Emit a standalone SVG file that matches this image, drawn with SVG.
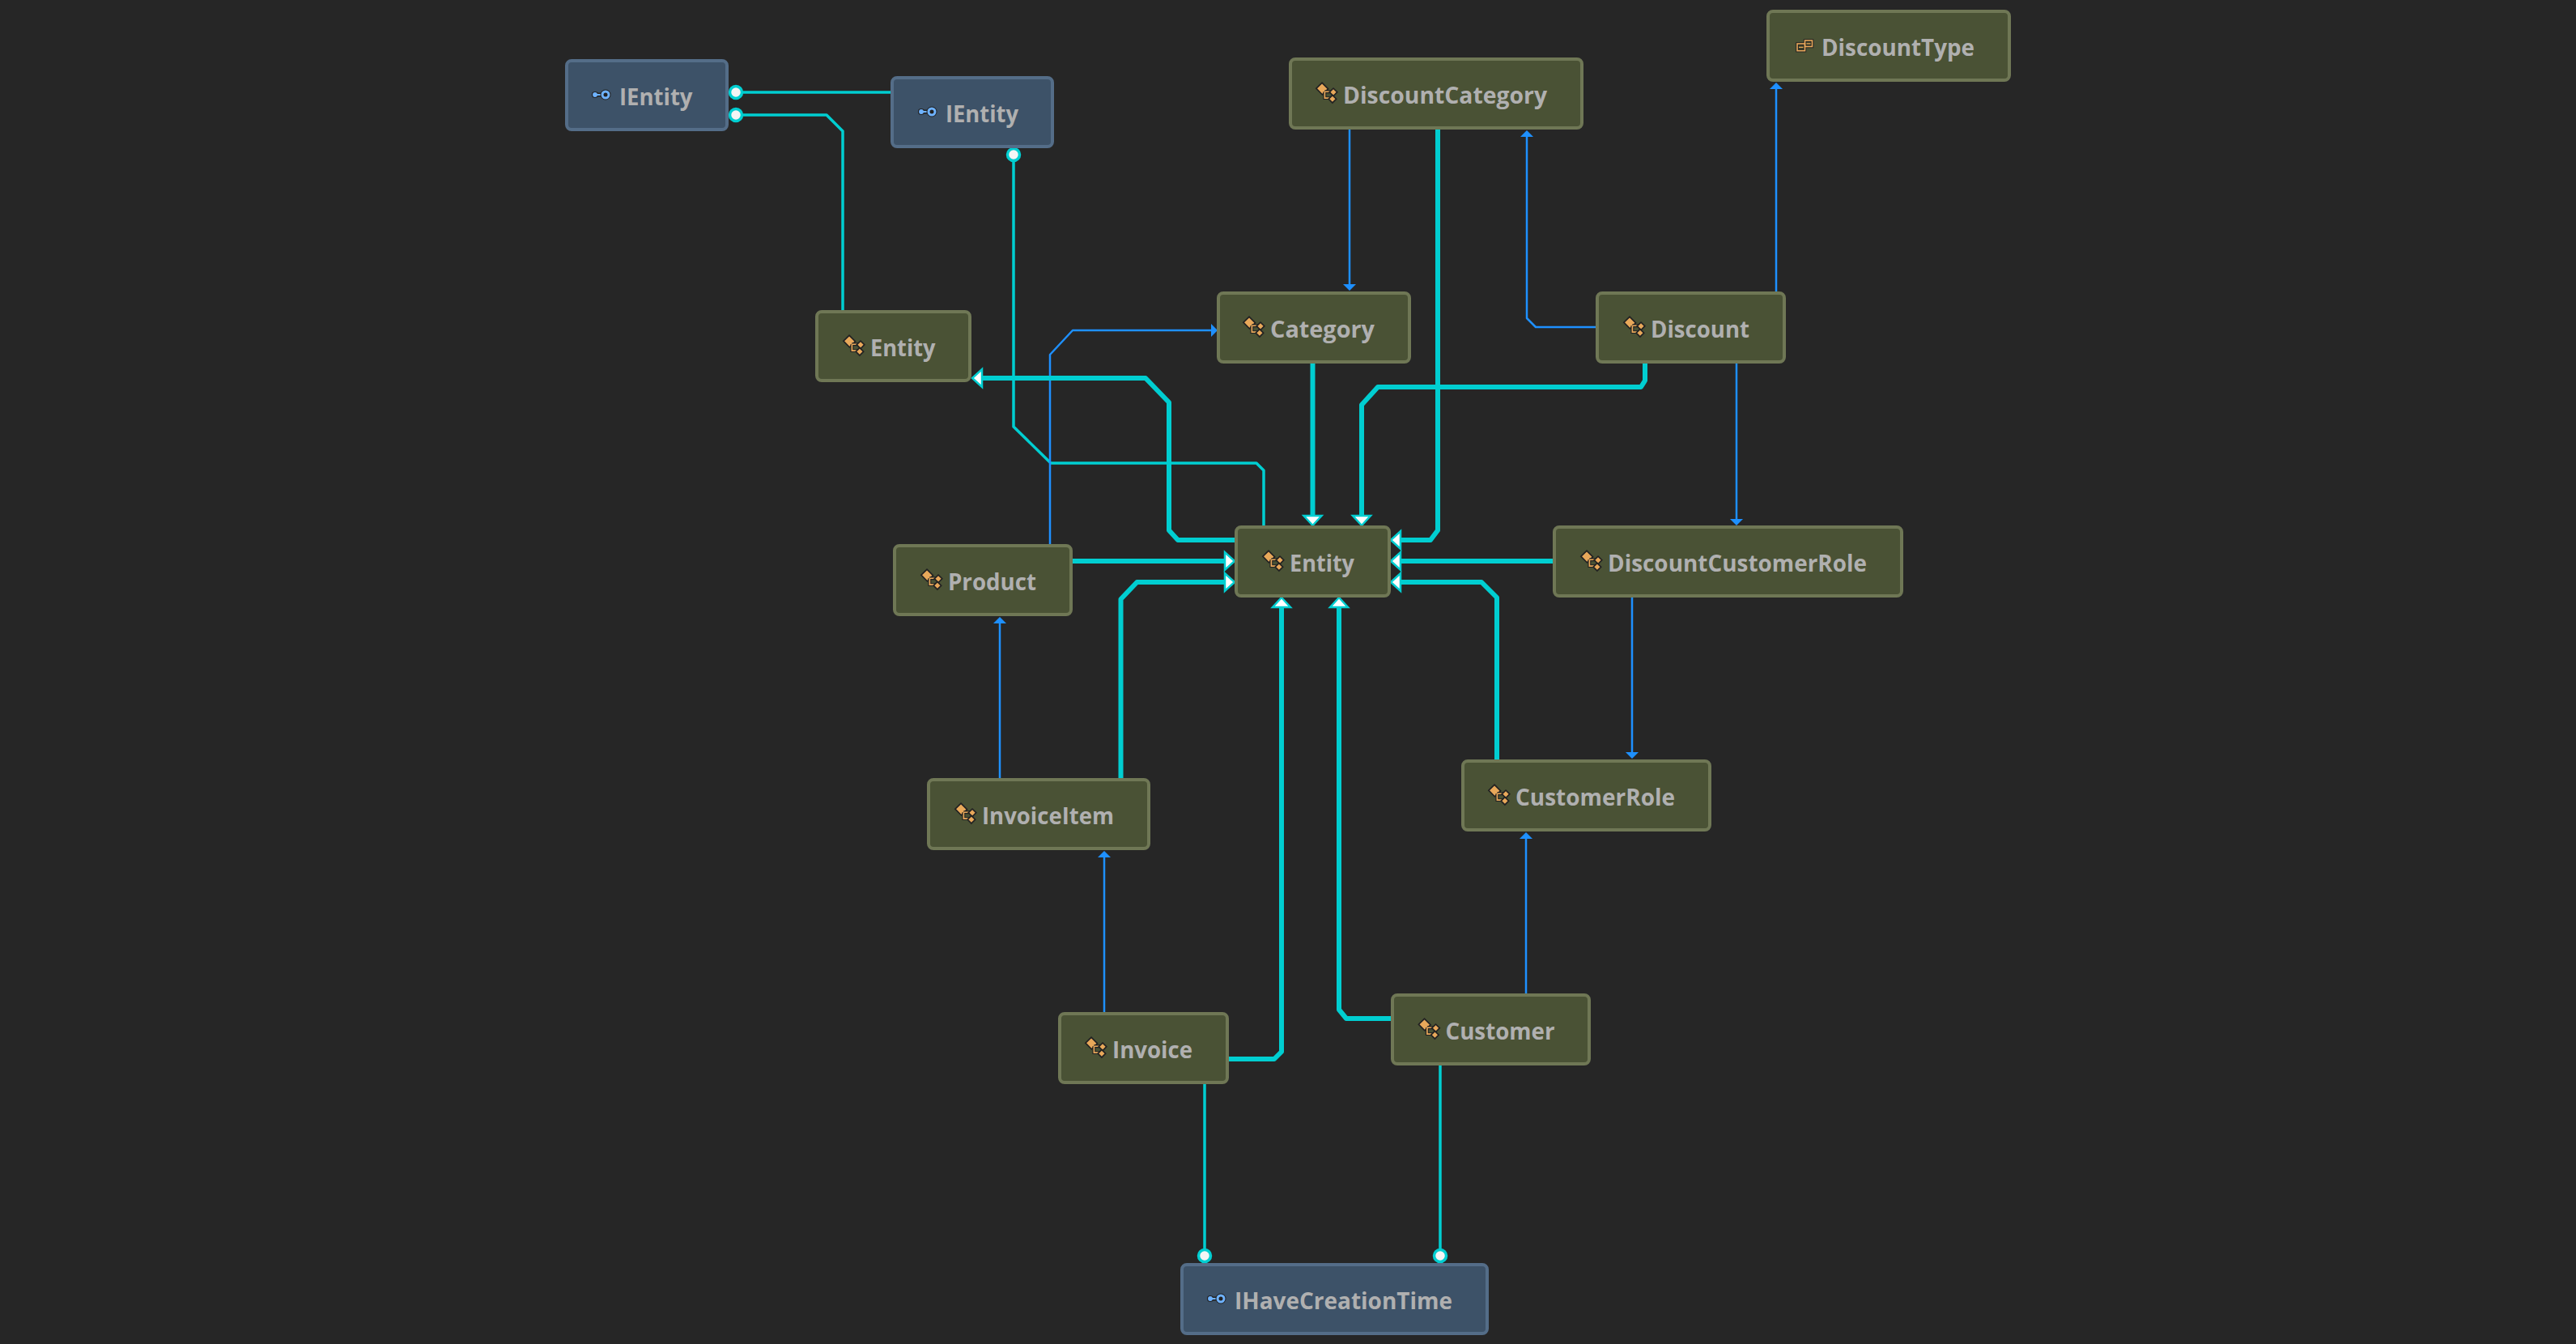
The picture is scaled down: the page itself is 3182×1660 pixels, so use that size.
<svg xmlns="http://www.w3.org/2000/svg" xmlns:xlink="http://www.w3.org/1999/xlink" width="3182" height="1660" viewBox="0 0 3182 1660">
<style>
.c rect.b{fill:#4a5235;stroke:#6f7755;stroke-width:4}
.i rect.b{fill:#3d5268;stroke:#546d88;stroke-width:4}
text{font-family:"Open Sans","Noto Sans","Liberation Sans",sans-serif;font-weight:700;font-size:28px;fill:#b0b0b0}
.l{fill:none;stroke-linejoin:round}
.t{stroke:#00ced1;stroke-width:6}
.m{stroke:#00ced1;stroke-width:3.5}
.u{stroke:#1e90ff;stroke-width:2.5}
.dot{fill:#f5f5f5;stroke:#00ced1;stroke-width:3.5}
.w{fill:#fff;stroke:#00ced1;stroke-width:2.5;stroke-linejoin:miter}
.a{fill:#1e90ff}
</style>
<defs>
<g id="ci" transform="scale(1.12)">
<rect x="-8.5" y="-10" width="9.5" height="9" transform="rotate(45 -4 -5.5)" fill="#e8a85a" stroke="#222" stroke-width="1.5"/>
<path d="M-1-2H6M-1-2V5H6" fill="none" stroke="#222" stroke-width="3.5"/>
<path d="M-1-2H6M-1-2V5H6" fill="none" stroke="#e8a85a" stroke-width="1.5"/>
<rect x="5.5" y="-4.5" width="6" height="6" transform="rotate(45 8.5 -1.5)" fill="#e8a85a" stroke="#222" stroke-width="1.5"/>
<rect x="4.5" y="3" width="6" height="6" transform="rotate(45 7.5 6)" fill="#e8a85a" stroke="#222" stroke-width="1.5"/>
</g>
<g id="ii">
<path d="M-9 0H0" stroke="#222" stroke-width="5"/>
<circle cx="-9" cy="0" r="3.5" fill="#6eb2ff" stroke="#222" stroke-width="1.2"/>
<path d="M-8 0H0" stroke="#6eb2ff" stroke-width="2"/>
<circle cx="4" cy="0" r="6.5" fill="#222"/>
<circle cx="4" cy="0" r="4" fill="#222" stroke="#6eb2ff" stroke-width="3"/>
</g>
<g id="ei">
<rect x="-9.5" y="-2" width="9.5" height="8.7" fill="#3a3f28" stroke="#222" stroke-width="3.5"/>
<rect x="0" y="-6" width="9" height="7.5" fill="#3a3f28" stroke="#222" stroke-width="3.5"/>
<rect x="-9.5" y="-2" width="9.5" height="8.7" fill="none" stroke="#e8a85a" stroke-width="1.6"/>
<rect x="0" y="-6" width="9" height="7.5" fill="none" stroke="#e8a85a" stroke-width="1.6"/>
<path d="M-7.5 2.3H-2M2-2.2H7" stroke="#e8a85a" stroke-width="1.2"/>
</g>
<path id="aD" class="w" d="M-11-12H11L0 0Z"/>
<path id="aU" class="w" d="M-11 12H11L0 0Z"/>
<path id="aR" class="w" d="M-12-11V11L0 0Z"/>
<path id="aL" class="w" d="M12-11V11L0 0Z"/>
<path id="bD" class="a" d="M-8-8H8L0 0Z"/>
<path id="bU" class="a" d="M-8 8H8L0 0Z"/>
<path id="bR" class="a" d="M-8-8V8L0 0Z"/>
</defs>
<rect width="3182" height="1660" fill="#262626"/>
<g id="connectors">
<path class="l m" d="M909 114H1101"/>
<path class="l m" d="M909 142H1021L1041 162V384"/>
<path class="l m" d="M1252 191V527L1298 572H1552L1561 581V650"/>
<path class="l m" d="M1488 1338V1551"/>
<path class="l m" d="M1779 1315V1551"/>
<path class="l u" d="M1297 673V438L1325 408H1496"/>
<path class="l u" d="M1667 159V352"/>
<path class="l u" d="M1972 404H1897L1886 393V169"/>
<path class="l u" d="M2194 361V110"/>
<path class="l u" d="M2145 448V642"/>
<path class="l u" d="M2016 737V931"/>
<path class="l u" d="M1885 1228V1036"/>
<path class="l u" d="M1235 962V770"/>
<path class="l u" d="M1364 1251V1059"/>
<path class="l t" d="M1526 667H1455L1444 655V497L1415 467H1213"/>
<path class="l t" d="M1621.5 448V638"/>
<path class="l t" d="M2032 448V470L2027 478H1702L1682 500V638"/>
<path class="l t" d="M1776 159V655L1767 667H1729"/>
<path class="l t" d="M1919 693H1729"/>
<path class="l t" d="M1849 939V738L1830 719H1729"/>
<path class="l t" d="M1324 693H1514"/>
<path class="l t" d="M1384.5 962V740L1404.5 719H1514"/>
<path class="l t" d="M1517 1308H1574L1583 1299V750"/>
<path class="l t" d="M1719 1258H1663L1654 1247V750"/>
<use href="#aL" x="1201" y="467"/>
<use href="#aD" x="1621.5" y="649"/>
<use href="#aD" x="1682" y="649"/>
<use href="#aL" x="1718" y="667"/>
<use href="#aL" x="1718" y="693"/>
<use href="#aL" x="1718" y="719"/>
<use href="#aR" x="1525" y="693"/>
<use href="#aR" x="1525" y="719"/>
<use href="#aU" x="1583" y="738"/>
<use href="#aU" x="1654" y="738"/>
<use href="#bR" x="1504" y="408"/>
<use href="#bD" x="1667" y="359"/>
<use href="#bU" x="1886" y="161"/>
<use href="#bU" x="2194" y="102"/>
<use href="#bD" x="2145" y="649"/>
<use href="#bD" x="2016" y="937"/>
<use href="#bU" x="1885" y="1028"/>
<use href="#bU" x="1235" y="762"/>
<use href="#bU" x="1364" y="1051"/>
<circle class="dot" cx="909" cy="114" r="7.5"/>
<circle class="dot" cx="909" cy="142" r="7.5"/>
<circle class="dot" cx="1252" cy="191" r="7.5"/>
<circle class="dot" cx="1488" cy="1551" r="7.5"/>
<circle class="dot" cx="1779" cy="1551" r="7.5"/>
</g>
<g id="n-ientity-a" class="i"><rect class="b" x="700" y="75" width="198" height="85" rx="6"/><use href="#ii" x="744" y="117"/><text x="765" y="130" textLength="90.5" lengthAdjust="spacingAndGlyphs">IEntity</text></g>
<g id="n-ientity-b" class="i"><rect class="b" x="1102" y="96" width="198" height="85" rx="6"/><use href="#ii" x="1147" y="138"/><text x="1168" y="151" textLength="90" lengthAdjust="spacingAndGlyphs">IEntity</text></g>
<g id="n-entity-a" class="c"><rect class="b" x="1009" y="385" width="189" height="85" rx="6"/><use href="#ci" x="1053.5" y="427.5"/><text x="1075" y="440" textLength="80.5" lengthAdjust="spacingAndGlyphs">Entity</text></g>
<g id="n-discountcategory" class="c"><rect class="b" x="1594" y="73" width="360" height="85" rx="6"/><use href="#ci" x="1637.5" y="115.5"/><text x="1659" y="128" textLength="252" lengthAdjust="spacingAndGlyphs">DiscountCategory</text></g>
<g id="n-discounttype" class="c"><rect class="b" x="2184" y="14" width="298" height="85" rx="6"/><use href="#ei" x="2229.5" y="56"/><text x="2250" y="69" textLength="189" lengthAdjust="spacingAndGlyphs">DiscountType</text></g>
<g id="n-category" class="c"><rect class="b" x="1505" y="362" width="236" height="85" rx="6"/><use href="#ci" x="1547.5" y="404.5"/><text x="1569" y="417" textLength="129" lengthAdjust="spacingAndGlyphs">Category</text></g>
<g id="n-discount" class="c"><rect class="b" x="1973" y="362" width="231" height="85" rx="6"/><use href="#ci" x="2017.5" y="404.5"/><text x="2039" y="417" textLength="122" lengthAdjust="spacingAndGlyphs">Discount</text></g>
<g id="n-product" class="c"><rect class="b" x="1105" y="674" width="218" height="85" rx="6"/><use href="#ci" x="1149.5" y="716.5"/><text x="1171" y="729" textLength="109" lengthAdjust="spacingAndGlyphs">Product</text></g>
<g id="n-entity-b" class="c"><rect class="b" x="1527" y="651" width="189" height="85" rx="6"/><use href="#ci" x="1571.5" y="693.5"/><text x="1593" y="706" textLength="80" lengthAdjust="spacingAndGlyphs">Entity</text></g>
<g id="n-discountcustomerrole" class="c"><rect class="b" x="1920" y="651" width="429" height="85" rx="6"/><use href="#ci" x="1964.5" y="693.5"/><text x="1986" y="706" textLength="320" lengthAdjust="spacingAndGlyphs">DiscountCustomerRole</text></g>
<g id="n-invoiceitem" class="c"><rect class="b" x="1147" y="963" width="272" height="85" rx="6"/><use href="#ci" x="1191.5" y="1005.5"/><text x="1213" y="1018" textLength="163" lengthAdjust="spacingAndGlyphs">InvoiceItem</text></g>
<g id="n-customerrole" class="c"><rect class="b" x="1807" y="940" width="305" height="85" rx="6"/><use href="#ci" x="1850.5" y="982.5"/><text x="1872" y="995" textLength="197" lengthAdjust="spacingAndGlyphs">CustomerRole</text></g>
<g id="n-invoice" class="c"><rect class="b" x="1309" y="1252" width="207" height="85" rx="6"/><use href="#ci" x="1352.5" y="1294.5"/><text x="1374" y="1307" textLength="99" lengthAdjust="spacingAndGlyphs">Invoice</text></g>
<g id="n-customer" class="c"><rect class="b" x="1720" y="1229" width="243" height="85" rx="6"/><use href="#ci" x="1764" y="1271.5"/><text x="1785.5" y="1284" textLength="135" lengthAdjust="spacingAndGlyphs">Customer</text></g>
<g id="n-ihavecreationtime" class="i"><rect class="b" x="1460" y="1562" width="377" height="85" rx="6"/><use href="#ii" x="1504" y="1604"/><text x="1525" y="1617" textLength="269" lengthAdjust="spacingAndGlyphs">IHaveCreationTime</text></g>
</svg>
